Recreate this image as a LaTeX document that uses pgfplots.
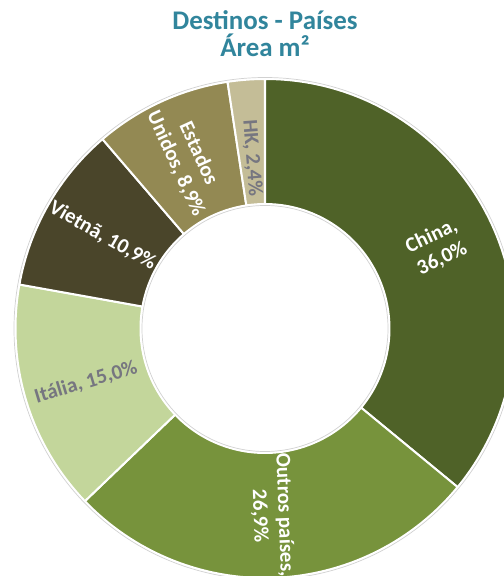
\documentclass[border=0pt]{standalone}
\usepackage{pgfplots}
\pgfplotsset{compat=1.18}
\usepackage{pgfplotstable}
\usepackage{fontspec}
\setmainfont{Carlito}

\definecolor{cChina}{HTML}{4F6228}
\definecolor{cOutros}{HTML}{77933C}
\definecolor{cItalia}{HTML}{C3D69B}
\definecolor{cVietna}{HTML}{4A452A}
\definecolor{cEUA}{HTML}{938953}
\definecolor{cHK}{HTML}{C4BD97}
\definecolor{titulo}{HTML}{31859C}
\definecolor{rotcinza}{RGB}{118,118,128}

% valores em % da área (m2)
\pgfplotstableread{
pais valor cor
China 36.0 cChina
Outros 26.9 cOutros
Italia 15.0 cItalia
Vietna 10.9 cVietna
EUA 8.9 cEUA
HK 2.4 cHK
}\dados

\begin{document}
\begin{tikzpicture}
\useasboundingbox (0,0) rectangle (504bp,576bp);
\begin{axis}[
    at={(0,0)}, anchor=south west,
    x=1bp, y=1bp,
    xmin=0, xmax=504, ymin=0, ymax=576,
    hide axis, clip=true,
]
\pgfmathsetmacro\ini{90}
\pgfplotsforeachungrouped \i in {0,...,5}{%
  \pgfplotstablegetelem{\i}{valor}\of\dados \let\v\pgfplotsretval
  \pgfplotstablegetelem{\i}{cor}\of\dados \let\c\pgfplotsretval
  \pgfmathsetmacro\fim{\ini-\v/100.1*360}%
  \edef\fatia{\noexpand\filldraw[fill=\c, draw=white, line width=2bp, line join=round]
    ([shift={(\ini:249.5bp)}]axis cs:265,247.5) arc[start angle=\ini, end angle=\fim, radius=249.5bp]
    -- ([shift={(\fim:124.5bp)}]axis cs:265,247.5) arc[start angle=\fim, end angle=\ini, radius=124.5bp] -- cycle;}%
  \fatia
  \global\let\ini\fim
}
\draw[black!18, line width=0.7bp] (axis cs:265,247.5) circle[radius=251bp];
\draw[black!18, line width=0.7bp] (axis cs:265,247.5) circle[radius=123bp];

% rótulos
\begin{scope}[every node/.style={font=\bfseries\fontsize{21}{25}\selectfont, align=center}]
\node[white, rotate=25.26] at ([shift={(25.26:190bp)}]axis cs:265,247.5) {China,\\36,0\%};
\node[white, rotate=-87.84] at ([shift={(-87.84:187bp)}]axis cs:265,247.5) {Outros países,\\26,9\%};
\node[rotcinza, rotate=16.81] at ([shift={(196.81:187bp)}]axis cs:265,247.5) {Itália, 15,0\%};
\node[white, rotate=-29.76] at ([shift={(150.24:187bp)}]axis cs:265,247.5) {Vietnã, 10,9\%};
\node[white, rotate=-65.36] at ([shift={(114.64:187bp)}]axis cs:265,247.5) {Estados\\Unidos, 8,9\%};
\node[rotcinza, rotate=-85.68] at ([shift={(94.32:171bp)}]axis cs:265,247.5) {HK, 2,4\%};
\end{scope}

\node[titulo, align=center, font=\bfseries\fontsize{27}{27}\selectfont] at (axis cs:265,542) {Destinos - Países\\Área m²};
\end{axis}
\end{tikzpicture}
\end{document}
